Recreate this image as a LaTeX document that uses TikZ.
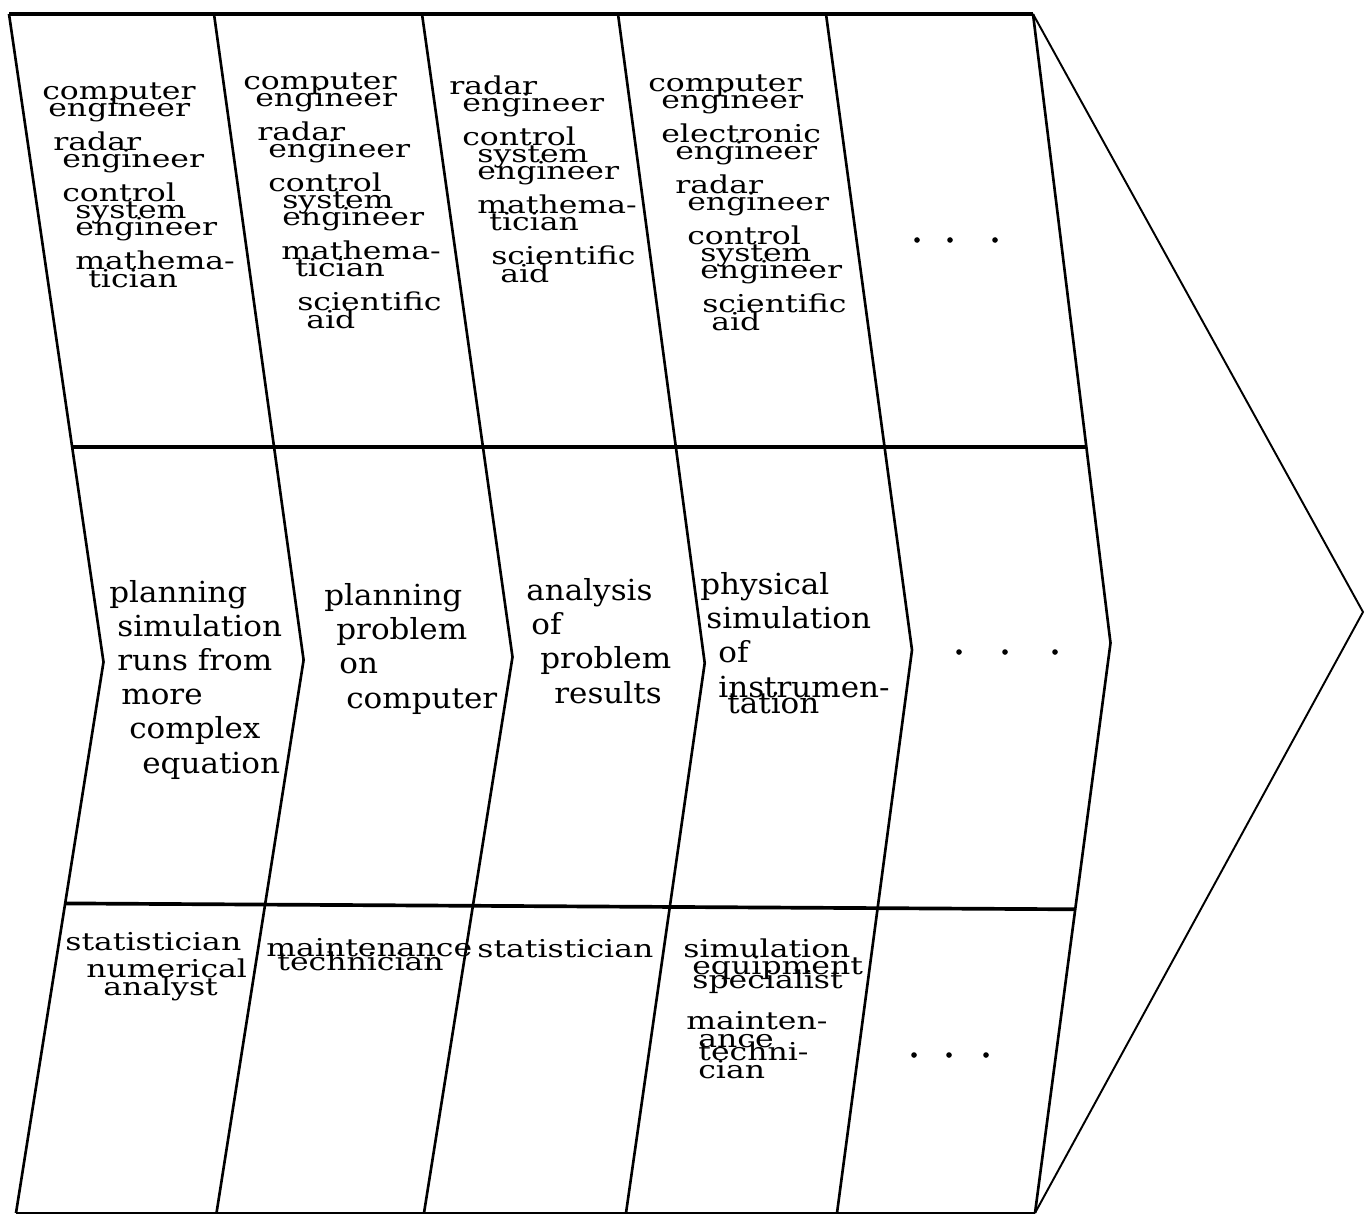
\documentclass[tikz,border=0pt]{standalone}
\usepackage{fontspec}
\newfontfamily\typefont[FakeStretch=1.28]{DejaVu Serif}
\newfontfamily\bookfont[FakeStretch=1.07]{DejaVu Serif}
\newdimen\pxu \pxu=0.569pt
\newcommand\ind[1]{\hspace*{#1\pxu}}
\newcommand\tightlines{\lineskiplimit=-50pt\relax\lineskip=0pt\relax}
\tikzset{
  frame/.style={line width=1.5pt},
  rowline/.style={line width=2.1pt},
  arrowline/.style={line width=1.1pt},
  jobs/.style={anchor=base west,inner sep=0pt,align=left,
    font=\typefont\fontsize{14}{9.8}\selectfont\tightlines},
  task/.style={anchor=base west,inner sep=0pt,align=left,
    font=\bookfont\fontsize{16.5}{19.4}\selectfont\tightlines},
}
\begin{document}
\begin{tikzpicture}[x=0.02cm,y=-0.02cm]
\useasboundingbox (0,0) rectangle (1365,1217);
% column edges: top, bend, bottom
\foreach \i/\t/\mx/\my/\b in {0/9/103.5/662/16, 1/214/303.6/660/216.5,
    2/422/512.5/657/424, 3/618/704.7/663/626, 4/826/912/650/837,
    5/1033/1110.5/643/1035}{
  \coordinate (T\i) at (\t,14);
  \coordinate (M\i) at (\mx,\my);
  \coordinate (D\i) at (\b,1213);
}
\coordinate (tip) at (1363,612);
\coordinate (r1a) at (0,447);  \coordinate (r1b) at (1365,447);
\coordinate (r2a) at (0,903);  \coordinate (r2b) at (1365,911);

\foreach \i in {0,...,5}
  \draw[frame] (T\i) -- (M\i) -- (D\i);
\draw[rowline] (T0) -- (T5);
\draw[rowline] (intersection of T0--M0 and r1a--r1b) -- (intersection of T5--M5 and r1a--r1b);
\draw[rowline] (intersection of M0--D0 and r2a--r2b) -- (intersection of M5--D5 and r2a--r2b);
\draw[frame] (D0) -- (D5);
\draw[arrowline] (T5) -- (tip) -- (D5);

% people (placed by last baseline)
\node[jobs] (p1) at (42,287) {computer\\ \ind{6}engineer\\[9.5pt]
  \ind{11}radar\\ \ind{20}engineer\\[9.5pt]
  \ind{20}control\\ \ind{33}system\\ \ind{33}engineer\\[9.5pt]
  \ind{33}mathema-\\ \ind{46}tician};
\node[jobs] (p2) at (243,328) {computer\\ \ind{12}engineer\\[9.5pt]
  \ind{14}radar\\ \ind{25}engineer\\[9.5pt]
  \ind{25}control\\ \ind{39}system\\ \ind{39}engineer\\[9.5pt]
  \ind{38}mathema-\\ \ind{52}tician\\[9.5pt]
  \ind{54}scientific\\ \ind{63}aid};
\node[jobs] (p3) at (449,282) {radar\\ \ind{13}engineer\\[9.5pt]
  \ind{13}control\\ \ind{28}system\\ \ind{28}engineer\\[9.5pt]
  \ind{28}mathema-\\ \ind{40}tician\\[9.5pt]
  \ind{42}scientific\\ \ind{51}aid};
\node[jobs] (p4) at (648,330) {computer\\ \ind{13}engineer\\[9.5pt]
  \ind{13}electronic\\ \ind{27}engineer\\[9.5pt]
  \ind{27}radar\\ \ind{39}engineer\\[9.5pt]
  \ind{39}control\\ \ind{52}system\\ \ind{52}engineer\\[9.5pt]
  \ind{54}scientific\\ \ind{63}aid};
\foreach \x in {917,950,995}
  \fill (\x,240) circle (1.6pt);

% activities
\node[task] (a1) at (109,773) {planning\\ \ind{8}simulation\\ \ind{8}runs from\\
  \ind{12}more\\ \ind{20}complex\\ \ind{33}equation};
\node[task] (a2) at (324,708) {planning\\ \ind{12}problem\\ \ind{15}on\\ \ind{22}computer};
\node[task] (a3) at (526,703) {analysis\\ \ind{5}of\\ \ind{14}problem\\ \ind{28}results};
\node[task] (a4) at (700,713) {physical\\ \ind{6}simulation\\ \ind{18}of\\
  \ind{18}instrumen-\\[-10.3pt] \ind{27}tation};
\foreach \x in {959,1005,1055}
  \fill (\x,652) circle (1.6pt);

% support
\node[jobs] (s1) at (65,995) {statistician\\[6pt] \ind{21}numerical\\ \ind{38}analyst};
\node[jobs] (s2) at (266,970) {maintenance\\[-2pt] \ind{11}technician};
\node[jobs] (s3) at (477,957) {statistician};
\node[jobs] (s4) at (683,1078) {simulation\\ \ind{9}equipment\\[-2pt] \ind{9}specialist\\[14pt]
  \ind{3}mainten-\\ \ind{15}ance\\[-2pt] \ind{15}techni-\\ \ind{15}cian};
\foreach \x in {914,949,986}
  \fill (\x,1055) circle (1.6pt);
\end{tikzpicture}
\end{document}
